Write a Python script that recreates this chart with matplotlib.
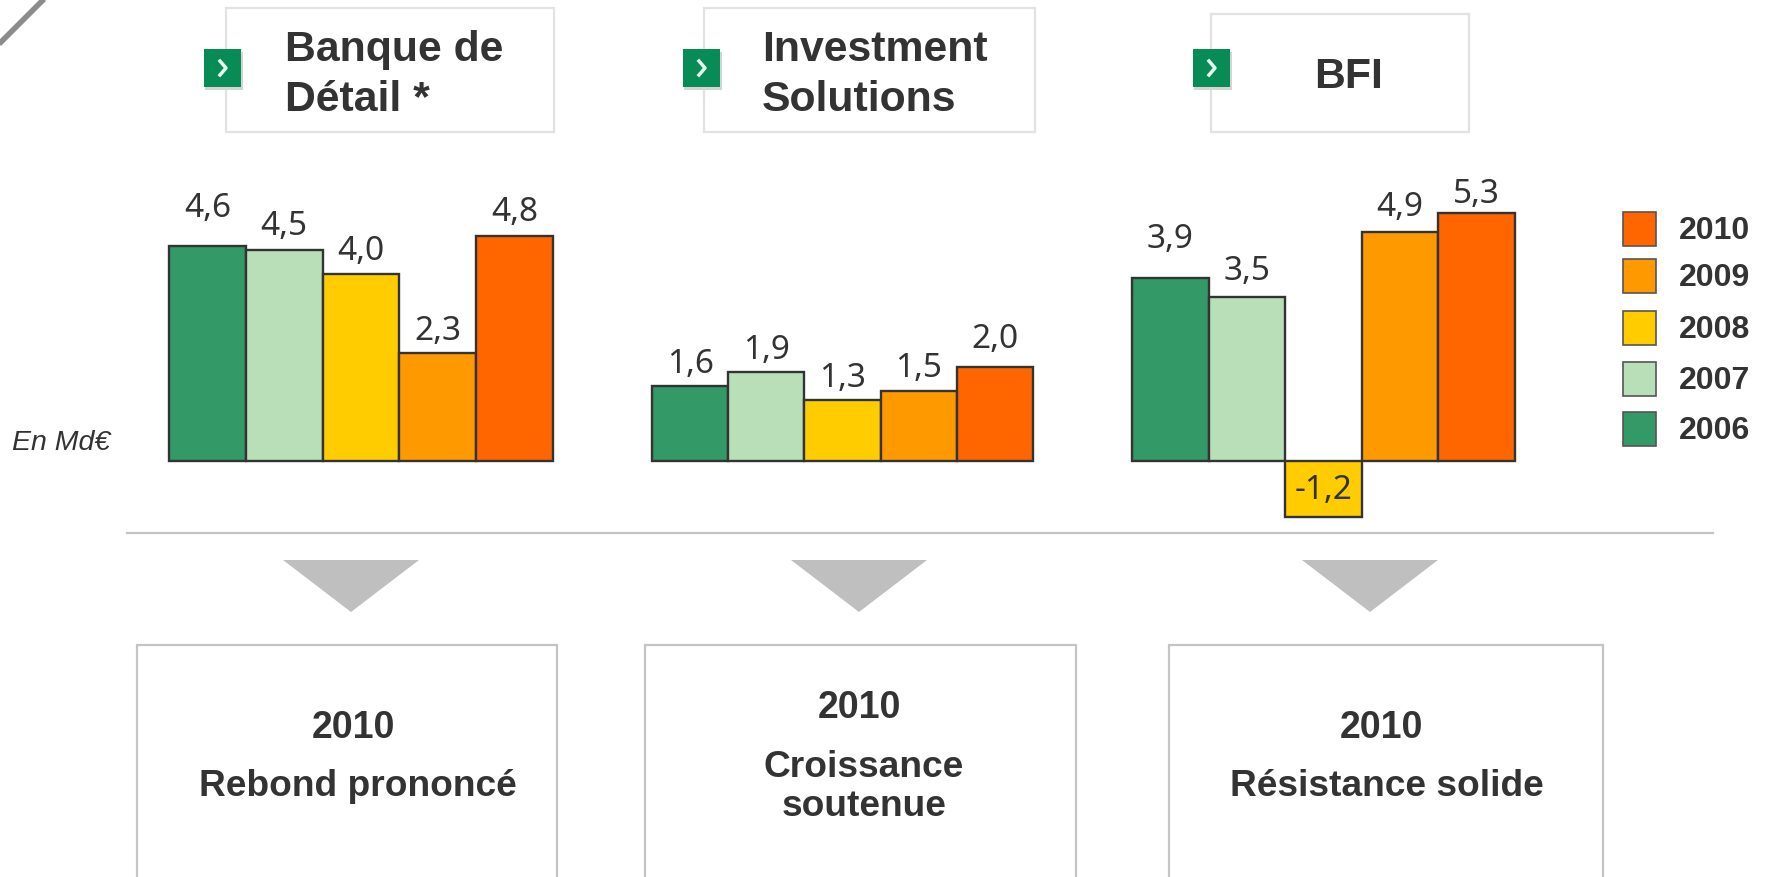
import matplotlib
matplotlib.use('Agg')
import matplotlib.pyplot as plt
from matplotlib.patches import Rectangle, Polygon

W, H = 1768, 878

years = ['2006', '2007', '2008', '2009', '2010']
banque = [4.6, 4.5, 4.0, 2.3, 4.8]
invest = [1.6, 1.9, 1.3, 1.5, 2.0]
bfi = [3.9, 3.5, -1.2, 4.9, 5.3]
colors = ['#339966', '#B8DFB8', '#FFCC00', '#FF9900', '#FF6600']

titles = ['Banque de\nDétail *', 'Investment\nSolutions', 'BFI']
bottom_texts = ['Rebond prononcé', 'Croissance\nsoutenue', 'Résistance solide']

DARK = '#333333'
plt.rcParams['font.family'] = ['Liberation Sans', 'DejaVu Sans']

fig = plt.figure(figsize=(W / 100, H / 100), dpi=100)

# fond en pixels pour la mise en page
bg = fig.add_axes([0, 0, 1, 1])
bg.set_xlim(0, W)
bg.set_ylim(H, 0)
bg.axis('off')

# trait gris du coin
bg.plot([-2, 44], [46, 0], color='#8C8C8C', lw=4, solid_capstyle='butt')

# cadres du haut: x0, x1, y0, y1, x bouton, x texte
top_boxes = [(226, 554, 9, 133, 204, 285), (704, 1035, 9, 133, 683, 762), (1211, 1469, 15, 133, 1193, 1349)]
for (x0, x1, y0, y1, xb, xt), title in zip(top_boxes, titles):
    bg.add_patch(Rectangle((x0, y0), x1 - x0, y1 - y0, fc='white', ec='#E2E2E2', lw=1.6))
    # bouton vert avec ombre
    bg.add_patch(Rectangle((xb + 1, 53), 38, 38, fc='#D4D4D4', ec='none'))
    bg.add_patch(Rectangle((xb, 50), 37, 38, fc='#078C55', ec='none'))
    bg.plot([xb + 16, xb + 22, xb + 16], [62, 69, 76], color='#E8F4EE', lw=2.5)
    if title == 'BFI':
        bg.text(xt, 77, title, fontsize=30.8, fontweight='bold', color=DARK, ha='center', va='center')
    else:
        bg.text(xt, 75, title, fontsize=30.8, fontweight='bold', color=DARK, ha='left', va='center',
                linespacing=1.3)

# axes des barres
px_per_unit = 46.8
base_y = 462
ax_top, ax_bottom = 150, 530
bar_left = [169, 652, 1132]
bar_right = [553, 1033, 1515]
label_offset = [
    [38, 25, 23, 23, 25],
    [23, 23, 23, 23, 29],
    [40, 27, 0, 25, 19],
]
for values, left, right, offsets in zip([banque, invest, bfi], bar_left, bar_right, label_offset):
    ax = fig.add_axes([left / W, 1 - ax_bottom / H, (right - left) / W, (ax_bottom - ax_top) / H])
    ax.set_xlim(-0.5, 4.5)
    ax.set_ylim((base_y - ax_bottom) / px_per_unit, (base_y - ax_top) / px_per_unit)
    ax.axis('off')
    ax.patch.set_alpha(0)
    ax.bar(range(5), values, width=1, color=colors, edgecolor=DARK, linewidth=1.7, clip_on=False)
    for i, v in enumerate(values):
        txt = ('%.1f' % v).replace('.', ',')
        if v < 0:
            ax.annotate(txt, (i, v / 2), ha='center', va='center', fontsize=24, color=DARK,
                        family='Noto Sans', fontweight='medium')
        else:
            ax.annotate(txt, (i, v), xytext=(0, offsets[i] * 0.72), textcoords='offset points',
                        ha='center', va='center', fontsize=24, color=DARK, family='Noto Sans',
                        fontweight='medium')

bg.text(12, 443, 'En Md€', fontsize=20.5, style='italic', color=DARK, ha='left', va='center')

# legende
legend_y = [230, 277, 329, 380, 430]
for year, color, y in zip(years[::-1], colors[::-1], legend_y):
    bg.add_patch(Rectangle((1623, y - 17), 33, 34, fc=color, ec='#555555', lw=1.2))
    bg.text(1679, y + 1, year, fontsize=23, fontweight='bold', color=DARK, ha='left', va='center')

# separateur
bg.plot([127, 1713], [534, 534], color='#C4C4C4', lw=1.6)

# triangles
for xc in [351, 859, 1370]:
    bg.add_patch(Polygon([(xc - 68, 561), (xc + 68, 561), (xc, 613)], fc='#BFBFBF', ec='none'))

# cadres du bas
bottom_boxes = [(137, 557), (645, 1076), (1169, 1603)]
year_x = [353, 859, 1381]
text_x = [358, 864, 1387]
year_y = [728, 708, 728]
text_y = [787, 787, 787]
for (x0, x1), text, xy, xt, yy, ty in zip(bottom_boxes, bottom_texts, year_x, text_x, year_y, text_y):
    bg.add_patch(Rectangle((x0, 646), x1 - x0, 260, fc='white', ec='#C4C4C4', lw=1.6))
    bg.text(xy, yy, '2010', fontsize=27, fontweight='bold', color=DARK, ha='center', va='center')
    bg.text(xt, ty, text, fontsize=26.7, fontweight='bold', color=DARK, ha='center', va='center',
            linespacing=1.15)

fig.savefig('out.png', dpi=100)
